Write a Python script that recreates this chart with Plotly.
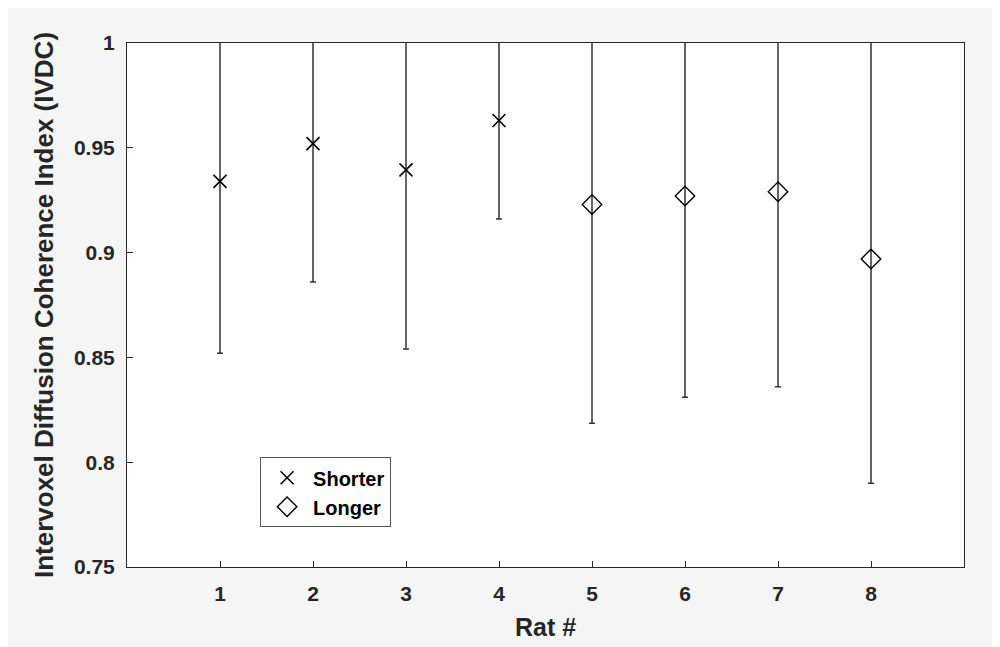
import plotly.graph_objects as go

rats_short = [1, 2, 3, 4]
ivdc_short = [0.934, 0.952, 0.9395, 0.963]
lower_short = [0.852, 0.886, 0.854, 0.916]

rats_long = [5, 6, 7, 8]
ivdc_long = [0.923, 0.927, 0.929, 0.897]
lower_long = [0.8186, 0.831, 0.836, 0.790]

x_ticks = [1, 2, 3, 4, 5, 6, 7, 8]
y_ticks = [0.75, 0.8, 0.85, 0.9, 0.95, 1.0]
y_ticklabels = ["0.75", "0.8", "0.85", "0.9", "0.95", "1"]

err_short = [m - l for m, l in zip(ivdc_short, lower_short)]
err_long = [m - l for m, l in zip(ivdc_long, lower_long)]

FONT = "Liberation Sans, Arial, sans-serif"
INK = "#262626"

fig = go.Figure()

# error bars (no legend)
for xs, ys, es in [(rats_short, ivdc_short, err_short), (rats_long, ivdc_long, err_long)]:
    fig.add_trace(go.Scatter(
        x=xs, y=ys, mode="markers", showlegend=False, hoverinfo="skip",
        marker=dict(size=1, color="rgba(0,0,0,0)"),
        error_y=dict(type="data", array=es, symmetric=True, color="#333333",
                     thickness=1.5, width=3),
    ))

fig.add_trace(go.Scatter(
    x=rats_short, y=ivdc_short, mode="markers", name="Shorter",
    marker=dict(symbol="x-thin-open", size=13, color="black",
                line=dict(color="black", width=1.6)),
))
fig.add_trace(go.Scatter(
    x=rats_long, y=ivdc_long, mode="markers", name="Longer",
    marker=dict(symbol="diamond-open", size=15, color="black",
                line=dict(color="black", width=1.4)),
))

axis_common = dict(
    showgrid=False, zeroline=False, showline=True, linecolor="#262626",
    linewidth=1, mirror=True, ticks="inside", ticklen=6, tickcolor="#262626",
    tickfont=dict(family=FONT, size=21, color=INK, weight="bold"),
)

fig.update_xaxes(range=[0, 9], tickvals=x_ticks, ticktext=[str(v) for v in x_ticks],
                 ticklabelstandoff=8,
                 title=dict(text="<b>Rat #</b>", font=dict(family=FONT, size=25, color=INK),
                            standoff=14),
                 **axis_common)
fig.update_yaxes(range=[0.75, 1.0], tickvals=y_ticks, ticktext=y_ticklabels,
                 ticklabelstandoff=7,
                 title=dict(text="<b>Intervoxel Diffusion Coherence Index (IVDC)</b>",
                            font=dict(family=FONT, size=26, color=INK), standoff=12),
                 **axis_common)

fig.update_layout(
    width=1000, height=647,
    margin=dict(l=119, r=44, t=35, b=88),
    paper_bgcolor="#f5f5f5", plot_bgcolor="white",
    font=dict(family=FONT, size=20, color=INK),
    legend=dict(x=0.159, y=0.2095, xanchor="left", yanchor="top",
                bgcolor="white", bordercolor="#555555", borderwidth=1,
                font=dict(family=FONT, size=20, color="black", weight="bold"),
                itemwidth=42, tracegroupgap=0),
)

fig.write_html("out.html")
